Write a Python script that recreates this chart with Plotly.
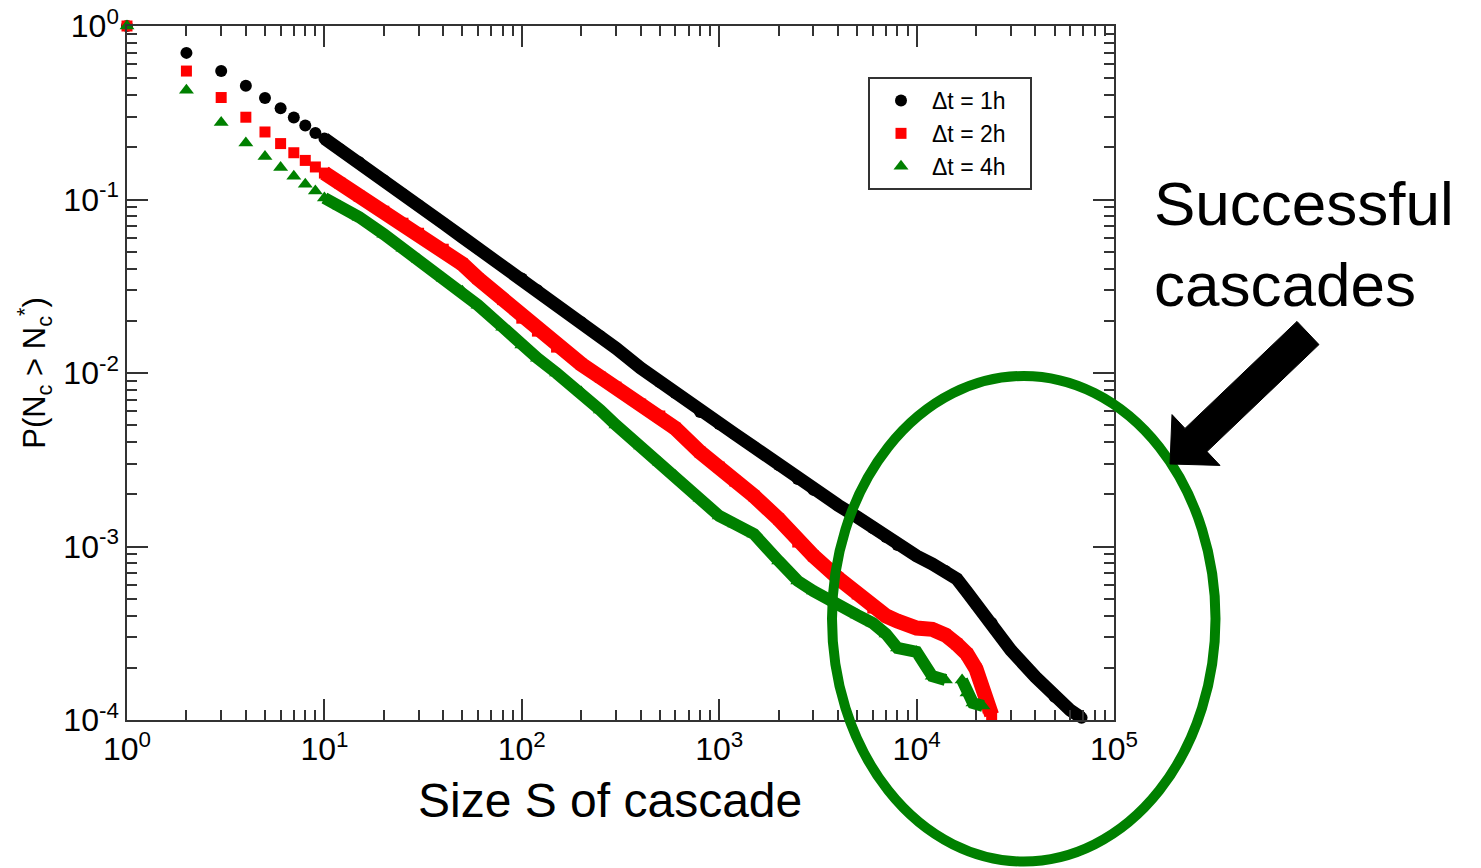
import plotly.graph_objects as go

# ---------------- data ----------------
N_black = [1, 2, 3, 4, 5, 6, 7, 8, 9, 10,
           12, 15, 20, 25, 30, 40, 50, 60, 80, 100,
           120, 150, 200, 250, 300, 400, 500, 600, 800, 1000,
           1200, 1500, 2000, 2500, 3000, 4000, 5000, 6000, 7000, 8000,
           10000, 12000, 14000, 16000, 18000, 20000, 24000, 30000, 40000, 50000,
           60000, 68500]
P_black = [1.0, 0.70, 0.55, 0.453, 0.385, 0.336, 0.297, 0.267, 0.242, 0.2245,
           0.1949, 0.1640, 0.1292, 0.1073, 0.0927, 0.0730, 0.0607, 0.0524, 0.0413, 0.0351,
           0.0300, 0.0246, 0.0196, 0.0163, 0.0139, 0.01067, 0.00886, 0.00766, 0.00595, 0.00508,
           0.00445, 0.00374, 0.00295, 0.00245, 0.00212, 0.00173, 0.00148, 0.00128, 0.001134, 0.00102,
           0.000882, 0.000793, 0.000723, 0.000650, 0.000547, 0.000466, 0.000362, 0.000253, 0.000177, 0.000136,
           0.000114, 0.000103]

N_red = [1, 2, 3, 4, 5, 6, 7, 8, 9, 10,
         12, 15, 20, 25, 30, 40, 50, 60, 80, 100,
         120, 150, 200, 250, 300, 400, 500, 600, 800, 1000,
         1200, 1500, 2000, 2500, 3000, 4000, 5000, 6000, 7000, 8000,
         10000, 12000, 14000, 16000, 18000, 20000, 22000, 23000, 24000]
P_red = [1.0, 0.55, 0.387, 0.298, 0.245, 0.210, 0.186, 0.168, 0.154, 0.142,
         0.1241, 0.1045, 0.0856, 0.0730, 0.0639, 0.0517, 0.0425, 0.0350, 0.0265, 0.0207,
         0.01743, 0.01410, 0.01125, 0.00947, 0.00829, 0.00662, 0.00565, 0.00480, 0.003502, 0.00287,
         0.002384, 0.001954, 0.001440, 0.001061, 0.000882, 0.000658, 0.000533, 0.000442, 0.000398, 0.000372,
         0.000339, 0.000333, 0.000309, 0.000274, 0.000240, 0.000197, 0.0001395, 0.0001174, 0.0001070]

N_green = [1, 2, 3, 4, 5, 6, 7, 8, 9, 10,
           12, 15, 20, 25, 30, 40, 50, 60, 80, 100,
           120, 150, 200, 250, 300, 400, 500, 600, 800, 1000,
           1200, 1500, 2000, 2500, 3000, 4000, 5000, 6000, 7000, 8000,
           10000, 12000, 14000, 17000, 18000, 19300, 21700]
P_green = [1.0, 0.426, 0.278, 0.212, 0.177, 0.153, 0.136, 0.1225, 0.112, 0.102,
           0.0915, 0.0791, 0.0631, 0.0524, 0.0453, 0.0352, 0.0296, 0.0246, 0.01838, 0.01448,
           0.01218, 0.00999, 0.00776, 0.00611, 0.00501, 0.00379, 0.00305, 0.00256, 0.00190, 0.00150,
           0.001348, 0.001180, 0.000825, 0.000633, 0.000554, 0.000454, 0.000403, 0.000362, 0.000313, 0.000260,
           0.000247, 0.000179, 0.000170, 0.000170, 0.000143, 0.0001254, 0.0001206]
GREEN_GAP_AFTER = 14000   # no data between 14000 and 17000

series_names = ["\u0394t = 1h", "\u0394t = 2h", "\u0394t = 4h"]
x_tickvals = [1, 10, 100, 1000, 10000, 100000]
x_ticktext = ["10<sup>0</sup>", "10<sup>1</sup>", "10<sup>2</sup>",
              "10<sup>3</sup>", "10<sup>4</sup>", "10<sup>5</sup>"]
y_tickvals = [1e-4, 1e-3, 1e-2, 1e-1, 1]
y_ticktext = ["10<sup>-4</sup>", "10<sup>-3</sup>", "10<sup>-2</sup>",
              "10<sup>-1</sup>", "10<sup>0</sup>"]
x_title = "Size S of cascade"
y_title = "P(N<sub>c</sub> > N<sub>c</sub><sup>*</sup>)"
callout = "Successful<br>cascades"

# ---------------- styling ----------------
FONT = "Arial, Liberation Sans, sans-serif"
AX = "#333333"
W, H = 1481, 868
ML, MR, MT, MB = 127, 367, 26, 148
PW, PH = W - ML - MR, H - MT - MB
LINE_FROM = 10  # markers merge into a continuous band from here on
PAD = "\u00a0\u00a0\u00a0"

def px(X):
    return (X - ML) / PW

def py(Y):
    return (H - MB - Y) / PH

def minor_vals(lo, hi):
    out = []
    for k in range(lo, hi):
        for m in range(2, 10):
            out.append(m * 10 ** k)
    return out

fig = go.Figure()

styles = [
    (N_black, P_black, "black", "circle", 12, 13),
    (N_red, P_red, "#ff0000", "square", 11, 15),
    (N_green, P_green, "#008000", "triangle-up", 13, 12),
]

for (xs, ys, col, sym, msize, lw), name in zip(styles, series_names):
    bx, by = [], []
    for xv, yv in zip(xs, ys):
        if xv >= LINE_FROM:
            bx.append(xv)
            by.append(yv)
            if col == "#008000" and xv == GREEN_GAP_AFTER:
                bx.append(None)
                by.append(None)
    fig.add_trace(go.Scatter(x=bx, y=by, mode="lines",
                             line=dict(color=col, width=lw),
                             showlegend=False, hoverinfo="skip",
                             connectgaps=False))
    fig.add_trace(go.Scatter(x=xs, y=ys, mode="markers", name=name + PAD,
                             cliponaxis=False,
                             marker=dict(color=col, symbol=sym, size=msize,
                                         line=dict(width=0))))

axis_common = dict(
    type="log", showline=True, linecolor=AX, linewidth=1.5, mirror="allticks",
    ticks="inside", ticklen=21, tickwidth=1.5, tickcolor=AX,
    showgrid=False, zeroline=False, automargin=False,
    tickfont=dict(family=FONT, size=32, color="black"),
)

fig.update_xaxes(
    **axis_common,
    range=[0, 5],
    tickmode="array", tickvals=x_tickvals, ticktext=x_ticktext,
    minor=dict(ticks="inside", ticklen=10, tickwidth=1.5, tickcolor=AX,
               tickmode="array", tickvals=minor_vals(0, 5), showgrid=False),
)
fig.update_yaxes(
    **axis_common,
    range=[-4, 0],
    tickmode="array", tickvals=y_tickvals, ticktext=y_ticktext,
    minor=dict(ticks="inside", ticklen=10, tickwidth=1.5, tickcolor=AX,
               tickmode="array", tickvals=minor_vals(-4, 0), showgrid=False),
    title=dict(text=y_title, font=dict(family=FONT, size=31, color="black"), standoff=8),
)

# x-axis title (placed slightly left of the plot centre, as in the reference)
fig.add_annotation(xref="paper", yref="paper", x=px(610), y=py(800),
                   xanchor="center", yanchor="middle", showarrow=False,
                   text=x_title, font=dict(family=FONT, size=48, color="black"))

# green ellipse around the tail
fig.add_shape(type="circle", xref="paper", yref="paper",
              x0=px(832), x1=px(1215.5), y0=py(861.5), y1=py(376),
              line=dict(color="#008000", width=10), layer="above")

# thick arrow
arrow_pts = [(1297, 321.4), (1185, 428.4), (1172, 414.6), (1170, 464),
             (1220, 465.4), (1207, 451.6), (1319, 344.6)]
path = "M " + " L ".join(f"{px(a):.5f},{py(b):.5f}" for a, b in arrow_pts) + " Z"
fig.add_shape(type="path", xref="paper", yref="paper", path=path,
              fillcolor="black", line=dict(color="black", width=1), layer="above")

fig.add_annotation(xref="paper", yref="paper", x=px(1152), y=py(244),
                   xanchor="left", yanchor="middle", align="left",
                   text=callout, showarrow=False,
                   font=dict(family=FONT, size=62, color="black"))

fig.update_layout(
    width=W, height=H,
    margin=dict(l=ML, r=MR, t=MT, b=MB, autoexpand=False),
    paper_bgcolor="white", plot_bgcolor="white",
    font=dict(family=FONT, color="black"),
    legend=dict(x=px(868), y=py(77), xanchor="left", yanchor="top",
                bordercolor=AX, borderwidth=2, bgcolor="white",
                font=dict(family=FONT, size=23, color="black"),
                itemwidth=52, tracegroupgap=0),
    showlegend=True,
)

fig.write_html("out.html")
